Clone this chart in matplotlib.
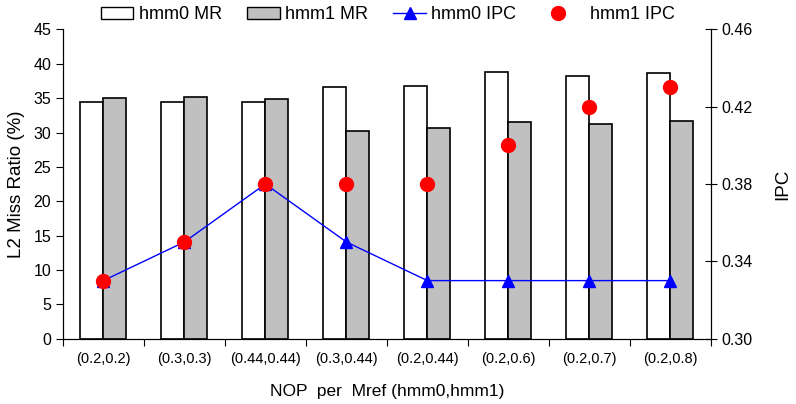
import numpy as np
import matplotlib
matplotlib.use("Agg")
import matplotlib.pyplot as plt
from matplotlib.patches import Patch
from matplotlib.lines import Line2D

plt.rcParams['font.family'] = ['Liberation Sans', 'DejaVu Sans']

categories = ["(0.2,0.2)", "(0.3,0.3)", "(0.44,0.44)", "(0.3,0.44)",
              "(0.2,0.44)", "(0.2,0.6)", "(0.2,0.7)", "(0.2,0.8)"]
hmm0_mr = [34.4, 34.5, 34.5, 36.6, 36.7, 38.8, 38.3, 38.7]
hmm1_mr = [35.0, 35.2, 34.9, 30.2, 30.7, 31.5, 31.2, 31.7]
hmm0_ipc = [0.33, 0.35, 0.38, 0.35, 0.33, 0.33, 0.33, 0.33]
hmm1_ipc = [0.33, 0.35, 0.38, 0.38, 0.38, 0.40, 0.42, 0.43]

fig = plt.figure(figsize=(7.96, 4.04), dpi=100)
ax = fig.add_axes([0.079, 0.162, 0.814, 0.765])
x = np.arange(len(categories))
w = 0.285

ax.bar(x - w / 2, hmm0_mr, w, color="white", edgecolor="black", linewidth=1.2, zorder=2)
ax.bar(x + w / 2, hmm1_mr, w, color="#c0c0c0", edgecolor="black", linewidth=1.2, zorder=2)
ax.set_xlim(-0.5, len(categories) - 0.5)
ax.set_ylim(0, 45)
ax.set_yticks(np.arange(0, 46, 5))
ax.set_ylabel("L2 Miss Ratio (%)", fontsize=13.5, labelpad=6)
ax.set_xlabel("NOP  per  Mref (hmm0,hmm1)", fontsize=12.5, labelpad=13)
ax.tick_params(axis="y", direction="out", length=5, labelsize=11.5)

# boundary ticks with no labels, labels at category centres
ax.set_xticks(np.arange(-0.5, len(categories)), [""] * (len(categories) + 1))
ax.set_xticks(x, categories, minor=True)
ax.tick_params(axis="x", which="major", direction="out", length=5)
ax.tick_params(axis="x", which="minor", length=0, labelsize=10.5, pad=10)
ax.spines["top"].set_visible(False)

ax2 = ax.twinx()
ax2.plot(x, hmm0_ipc, color="blue", linewidth=1, marker="^", markersize=9, zorder=3)
ax2.plot(x, hmm1_ipc, linestyle="none", marker="o", color="red", markersize=10, zorder=4)
ax2.set_ylim(0.30, 0.46)
ax2.set_yticks(np.arange(0.30, 0.461, 0.04))
ax2.yaxis.set_major_formatter(matplotlib.ticker.FormatStrFormatter("%.2f"))
ax2.tick_params(axis="y", direction="inout", length=8, labelsize=11.5)
ax2.set_ylabel("IPC", fontsize=13.5, labelpad=16)
ax2.spines["top"].set_visible(False)

handles = [
    Patch(facecolor="white", edgecolor="black"),
    Patch(facecolor="#c0c0c0", edgecolor="black"),
    Line2D([], [], color="blue", linewidth=1, marker="^", markersize=9),
    Line2D([], [], linestyle="none", color="red", marker="o", markersize=10),
]
labels = ["hmm0 MR", "hmm1 MR", "hmm0 IPC", "  hmm1 IPC"]
fig.legend(handles, labels, loc="center", bbox_to_anchor=(0.487, 0.963), ncol=4,
           frameon=False, fontsize=13, handlelength=1.8, handletextpad=0.3,
           columnspacing=1.4)

fig.savefig("out.png", dpi=100)
